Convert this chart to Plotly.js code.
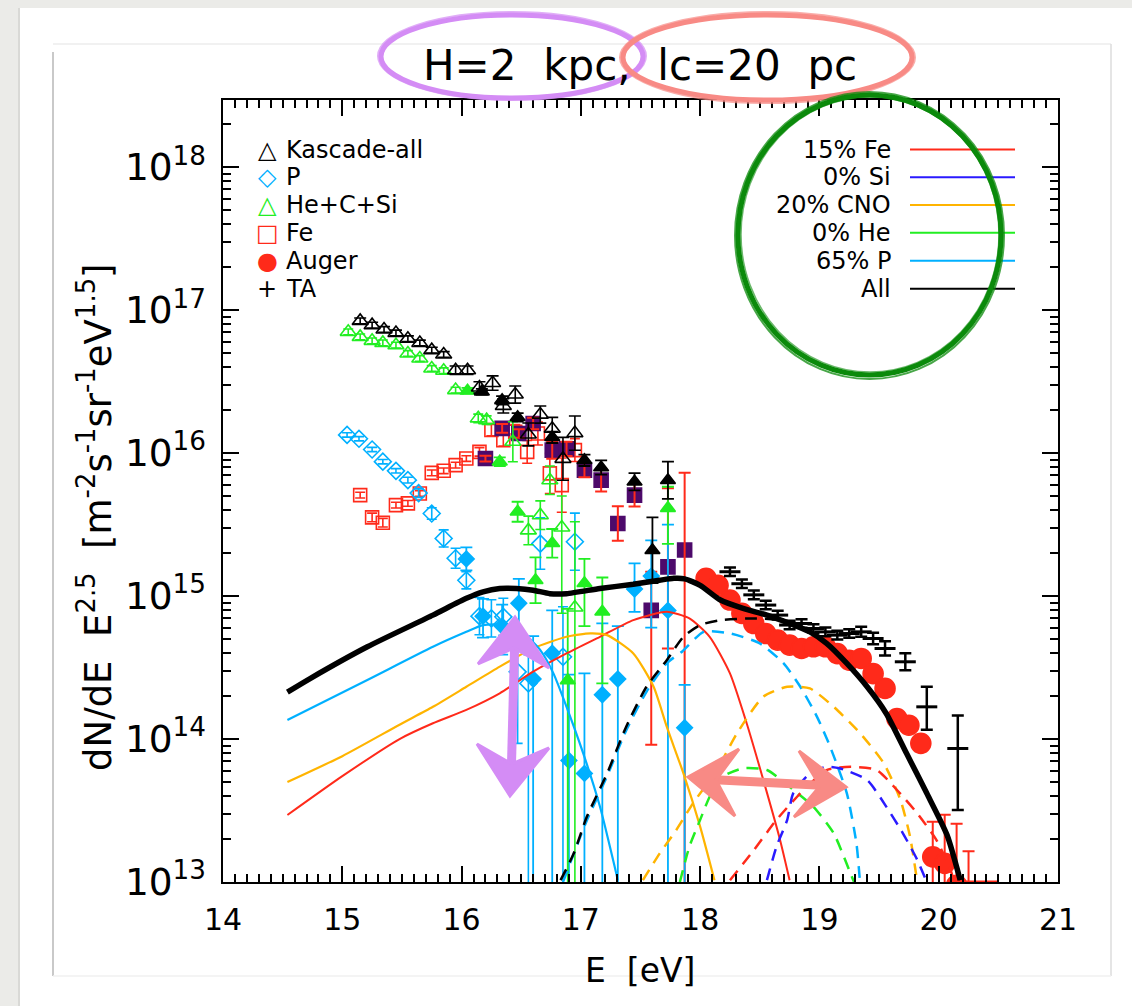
<!DOCTYPE html>
<html>
<head>
<meta charset="utf-8">
<script src="https://cdn.plot.ly/plotly-3.0.1.min.js"></script>
<style>html,body{margin:0;padding:0;background:#fff;}#chart{width:1132px;height:1006px;}</style>
</head>
<body>
<div id="chart"></div>
<script>
// ---------------- DATA (x = log10(E/eV), y = dN/dE E^2.5) ----------------
// KASCADE all-particle (open black triangles)
const kasAllX = [15.15,15.25,15.35,15.45,15.55,15.65,15.75,15.85,15.95,16.05,16.15,16.26,16.35,16.45,16.56,16.66,16.76,16.85,16.95];
const kasAllY = [8.41e16,7.85e16,7.33e16,6.92e16,6.31e16,5.89e16,5.25e16,4.90e16,3.80e16,3.80e16,2.88e16,3.09e16,2.14e16,2.57e16,1.35e16,1.86e16,1.48e16,9.12e15,1.38e16];
const kasAllErr = [0.02,0.02,0.02,0.02,0.02,0.02,0.02,0.02,0.03,0.03,0.04,0.05,0.05,0.06,0.08,0.06,0.08,0.15,0.12];
// KASCADE-Grande all-particle (filled black triangles)
const kgAllX = [16.17,16.34,16.47,16.76,17.03,17.17,17.45,17.60,17.73];
const kgAllY = [2.69e16,2.34e16,1.78e16,1.29e16,8.91e15,7.94e15,6.31e15,2.09e15,6.46e15];
const kgAllErr = [0.02,0.03,0.03,0.04,0.04,0.05,0.06,0.23,0.13];
// P (open blue diamonds)
const kasPX = [15.04,15.14,15.25,15.34,15.45,15.55,15.64,15.75,15.85,15.95,16.04,16.15,16.25,16.35,16.47,16.56,16.66,16.85,16.95];
const kasPY = [1.34e16,1.26e16,1.06e16,8.71e15,7.52e15,6.47e15,5.25e15,3.78e15,2.53e15,1.84e15,1.29e15,7.24e14,6.98e14,7.16e14,2.95e14,2.45e14,2.33e15,3.76e14,2.40e15];
const kasPUp = [0.015,0.015,0.015,0.015,0.015,0.02,0.03,0.04,0.06,0.07,0.06,0.13,0.13,0.13,0.27,0.2,0.18,0.35,0.2];
const kasPDn = [0.015,0.015,0.015,0.015,0.015,0.02,0.03,0.04,0.06,0.07,0.06,0.13,0.13,0.13,0.5,3,0.18,3,0.2];
// P (filled blue diamonds)
const kgPX = [16.04,16.18,16.34,16.48,16.60,16.76,16.90,17.03,17.18,17.31,17.45,17.59,17.73,17.87];
const kgPY = [1.82e15,7.24e14,6.17e14,8.91e14,2.63e14,3.98e14,7.08e13,5.75e13,2.04e14,2.63e14,1.12e15,1.38e15,7.94e14,1.20e14];
const kgPUp = [0.08,0.12,0.15,0.17,0.3,0.3,0.6,0.7,0.5,0.37,0.18,0.25,0.6,0.3];
const kgPDn = [0.08,0.15,0.2,0.25,3,3,3,3,3,3,0.16,0.36,3,3];
// He+C+Si (open green triangles)
const kasHX = [15.05,15.15,15.25,15.34,15.45,15.55,15.65,15.75,15.85,15.95,16.14,16.21,16.43,16.56,16.66,16.74,16.84,16.95];
const kasHY = [7.05e16,6.50e16,6.10e16,5.90e16,5.69e16,4.98e16,4.59e16,3.91e16,3.77e16,2.76e16,1.75e16,1.70e16,1.20e16,2.88e15,3.68e15,6.46e15,3.02e15,8.32e14];
const kasHUp = [0.02,0.02,0.02,0.02,0.02,0.02,0.02,0.02,0.02,0.02,0.03,0.03,0.14,0.1,0.1,0.1,0.22,0.6];
const kasHDn = [0.02,0.02,0.02,0.02,0.02,0.02,0.02,0.02,0.02,0.02,0.03,0.03,0.14,0.1,0.1,0.1,0.6,3];
// He+C+Si (filled green triangles)
const kgHX = [16.05,16.32,16.47,16.62,16.76,16.89,17.03,17.18,17.73];
const kgHY = [2.73e16,8.71e15,3.89e15,1.29e15,2.34e15,2.57e14,1.23e15,7.76e14,4.12e15];
const kgHUp = [0.02,0.03,0.07,0.16,0.1,0.5,0.17,0.24,0.15];
const kgHDn = [0.02,0.03,0.07,0.16,0.1,3,0.3,0.5,0.25];
// Fe (open red squares)
const kasFeX = [15.15,15.25,15.34,15.45,15.55,15.65,15.75,15.85,15.95,16.04,16.15,16.25,16.35,16.45,16.55,16.64,16.74,16.84,16.95];
const kasFeY = [5.08e15,3.55e15,3.26e15,4.33e15,4.45e15,5.22e15,7.28e15,7.52e15,8.24e15,9.16e15,1.02e16,1.45e16,1.23e16,1.41e16,1.02e16,1.37e16,7.21e15,5.97e15,1.05e16];
const kasFeErr = [0.02,0.03,0.03,0.02,0.02,0.02,0.02,0.02,0.02,0.02,0.03,0.04,0.04,0.05,0.08,0.08,0.14,0.19,0.08];
// Fe (filled purple squares)
const kgFeX = [16.20,16.34,16.48,16.60,16.76,16.88,17.03,17.17,17.31,17.45,17.59,17.73,17.87];
const kgFeY = [9.16e15,1.49e16,1.37e16,1.61e16,1.05e16,1.07e16,7.60e15,6.47e15,3.22e15,5.08e15,7.94e14,1.60e15,2.10e15];
const kgFeUp = [0.02,0.03,0.03,0.04,0.06,0.05,0.05,0.08,0.12,0.08,0.27,0.55,0.54];
const kgFeDn = [0.02,0.03,0.03,0.04,0.06,0.05,0.05,0.08,0.12,0.08,0.94,0.57,3];
// Auger (filled red circles)
const augerX = [18.05,18.15,18.25,18.35,18.45,18.55,18.65,18.75,18.85,18.95,19.05,19.15,19.25,19.35,19.45,19.55,19.65,19.75,19.85,19.95,20.05,20.15,20.25];
const augerY = [1.33e15,1.19e15,9.38e14,7.57e14,6.43e14,5.47e14,4.92e14,4.54e14,4.30e14,4.42e14,4.42e14,3.96e14,3.56e14,3.66e14,2.87e14,2.26e14,1.39e14,1.25e14,9.33e13,1.50e13,1.35e13,9.5e12,7.0e12];
const augerUp = [0.01,0.01,0.01,0.01,0.01,0.01,0.01,0.01,0.01,0.01,0.01,0.01,0.01,0.01,0.01,0.02,0.03,0.03,0.05,0.245,0.34,0.43,0.37];
const augerDn = [0.01,0.01,0.01,0.01,0.01,0.01,0.01,0.01,0.01,0.01,0.01,0.01,0.01,0.01,0.01,0.02,0.03,0.03,0.05,3,3,3,3];
const augerLimX = [20.2, 20.5];
const augerLimY = [1.0e13, 1.0e13];
// TA (black crosses)
const taX = [18.25,18.35,18.45,18.55,18.65,18.75,18.85,18.95,19.05,19.15,19.25,19.35,19.45,19.55,19.72,19.90,20.16];
const taY = [1.48e15,1.22e15,1.02e15,8.65e14,7.36e14,6.27e14,6.43e14,5.93e14,5.62e14,5.33e14,5.47e14,5.62e14,5.05e14,4.30e14,3.47e14,1.68e14,8.59e13];
const taUp = [0.03,0.03,0.03,0.03,0.03,0.03,0.03,0.03,0.03,0.03,0.03,0.035,0.04,0.05,0.06,0.14,0.23];
const taDn = [0.03,0.03,0.03,0.03,0.03,0.03,0.03,0.03,0.03,0.03,0.03,0.035,0.04,0.05,0.06,0.16,0.43];

// Model curves: galactic (solid)
const galPX = [14.54,15.21,15.76,16.04,16.18,16.38,16.52,16.66,16.77,16.88,17.02,17.16,17.31];
const galPY = [1.36e14,2.59e14,4.42e14,5.62e14,6.27e14,6.27e14,5.48e14,4.19e14,2.88e14,1.68e14,7.94e13,3.37e13,1.03e13];
const galCNOX = [14.54,15.0,15.48,15.76,16.04,16.32,16.60,16.88,17.08,17.22,17.44,17.61,17.72,17.86,18.00,18.12];
const galCNOY = [5.0e13,7.59e13,1.26e14,1.68e14,2.32e14,3.21e14,4.31e14,5.19e14,5.48e14,5.33e14,3.97e14,2.32e14,1.22e14,5.75e13,2.44e13,1.03e13];
const galFeX = [14.54,15.0,15.48,15.76,16.04,16.32,16.60,16.88,17.16,17.44,17.72,17.91,18.08,18.25,18.39,18.53,18.67,18.75];
const galFeY = [2.94e13,5.50e13,1.0e14,1.29e14,1.60e14,2.09e14,2.96e14,3.97e14,5.19e14,6.79e14,7.76e14,6.98e14,5.19e14,2.88e14,1.29e14,5.16e13,1.97e13,1.03e13];
// Total (thick black)
const totX = [14.54,14.73,15.21,15.76,16.04,16.18,16.32,16.46,16.60,16.74,16.88,17.16,17.44,17.66,17.78,17.87,18.00,18.17,18.36,18.56,18.75,18.92,19.06,19.23,19.40,19.56,19.73,19.90,20.07,20.18];
const totY = [2.13e14,2.65e14,4.42e14,7.36e14,9.64e14,1.07e15,1.13e15,1.13e15,1.10e15,1.04e15,1.04e15,1.13e15,1.21e15,1.29e15,1.33e15,1.32e15,1.19e15,9.38e14,8.20e14,7.36e14,6.44e14,5.62e14,4.67e14,3.38e14,2.32e14,1.51e14,7.94e13,4.17e13,2.13e13,1.03e13];
// Extragalactic (dashed)
const egAllX = [16.83,16.94,17.05,17.22,17.38,17.55,17.72,17.86,18.00,18.17,18.45,18.67,18.92,19.06,19.23,19.40,19.56,19.73,19.90,20.07,20.18];
const egAllY = [1.03e13,1.58e13,2.86e13,5.75e13,1.22e14,2.32e14,3.56e14,5.19e14,6.27e14,6.79e14,6.98e14,6.79e14,5.62e14,4.67e14,3.38e14,2.32e14,1.51e14,7.94e13,4.17e13,2.13e13,1.03e13];
const egPX = [16.85,17.05,17.22,17.38,17.55,17.72,17.85,18.03,18.25,18.50,18.70,18.84,18.98,19.09,19.23,19.31,19.34];
const egPY = [1.0e13,2.69e13,5.50e13,1.15e14,2.14e14,3.39e14,4.10e14,5.62e14,5.48e14,4.67e14,3.38e14,2.32e14,1.43e14,8.83e13,4.17e13,1.87e13,1.0e13];
const egCNOX = [17.52,17.66,17.80,17.94,18.14,18.31,18.53,18.73,18.92,19.12,19.34,19.54,19.68,19.76,19.82];
const egCNOY = [1.03e13,1.58e13,2.31e13,3.55e13,6.07e13,1.10e14,1.98e14,2.32e14,2.26e14,1.68e14,1.10e14,6.76e13,3.74e13,2.07e13,1.0e13];
const egHeX = [17.83,17.91,18.00,18.08,18.19,18.36,18.56,18.75,18.95,19.12,19.26,19.29];
const egHeY = [1.0e13,1.77e13,2.72e13,3.95e13,5.45e13,6.24e13,6.07e13,4.63e13,3.36e13,2.19e13,1.15e13,1.0e13];
const egFeX = [18.25,18.45,18.64,18.84,19.06,19.26,19.48,19.65,19.82,19.98,20.09,20.13];
const egFeY = [1.03e13,1.67e13,2.72e13,4.17e13,6.07e13,6.40e13,6.07e13,4.40e13,3.02e13,1.97e13,1.28e13,1.0e13];
const egSiX = [18.56,18.64,18.73,18.78,18.92,19.06,19.17,19.40,19.56,19.70,19.82,19.90];
const egSiY = [1.03e13,1.77e13,2.72e13,4.17e13,5.75e13,6.40e13,6.24e13,5.16e13,3.37e13,2.19e13,1.43e13,1.0e13];

// Legends
const dataLegend = ['Kascade-all','P','He+C+Si','Fe','Auger','TA'];
const dataLegendSym = ['\u25B3','\u25C7','\u25B3','\u25A1','\u25CF','+'];
const modelLegend = ['15% Fe','0% Si','20% CNO','0% He','65% P','All'];

// ---------------- STYLE ----------------
const RED = '#ff2a1a', BLUE = '#2a1aff', ORANGE = '#ffb400', GREEN = '#22ee22', LBLUE = '#00b0ff', PURPLE = '#4d0a6b', BLACK = '#000000';
const FONT = 'DejaVu Sans, sans-serif';
const dataLegendCol = [BLACK, LBLUE, GREEN, RED, RED, BLACK];
const modelLegendCol = [RED, BLUE, ORANGE, GREEN, LBLUE, BLACK];

// plot area in page pixels: x 223..1058, y 100..882
const PX = px => (px - 223) / 835;
const PY = py => (882 - py) / 782;

function errBars(y, up, dn, color, thick, w) {
  return {type: 'data', symmetric: false,
    array: y.map((v, i) => v * (Math.pow(10, up[i]) - 1)),
    arrayminus: y.map((v, i) => v * (1 - Math.pow(10, -dn[i]))),
    color: color, thickness: thick, width: w};
}
function pts(x, y, sym, size, color, err, extra) {
  return Object.assign({type: 'scatter', mode: 'markers', x: x, y: y, hoverinfo: 'skip',
    marker: {symbol: sym, size: size, color: color, line: {width: 1.6, color: color}},
    error_y: err}, extra || {});
}
function curve(x, y, color, width, dash) {
  return {type: 'scatter', mode: 'lines', x: x, y: y, hoverinfo: 'skip',
    line: {color: color, width: width, dash: dash || 'solid', shape: 'spline', smoothing: 0.6}};
}

const traces = [
  pts(kasFeX, kasFeY, 'square-open', 13, RED, errBars(kasFeY, kasFeErr, kasFeErr, RED, 1.6, 5)),
  pts(kgFeX, kgFeY, 'square', 14, PURPLE, undefined),
  pts(kgFeX, kgFeY, 'square', 14, 'rgba(0,0,0,0)', errBars(kgFeY, kgFeUp, kgFeDn, RED, 2, 6)),
  pts(kasPX, kasPY, 'diamond-open', 13, LBLUE, errBars(kasPY, kasPUp, kasPDn, LBLUE, 1.6, 5)),
  pts(kgPX, kgPY, 'diamond', 12, LBLUE, errBars(kgPY, kgPUp, kgPDn, LBLUE, 1.8, 6)),
  pts(kasHX, kasHY, 'triangle-up-open', 14, GREEN, errBars(kasHY, kasHUp, kasHDn, GREEN, 1.6, 5)),
  pts(kgHX, kgHY, 'triangle-up', 13, GREEN, errBars(kgHY, kgHUp, kgHDn, GREEN, 1.8, 6)),
  pts(kasAllX, kasAllY, 'triangle-up-open', 14, BLACK, errBars(kasAllY, kasAllErr, kasAllErr, BLACK, 1.6, 6)),
  pts(kgAllX, kgAllY, 'triangle-up', 13, BLACK, errBars(kgAllY, kgAllErr, kgAllErr, BLACK, 1.8, 6)),
  pts(augerX, augerY, 'circle', 20, RED, errBars(augerY, augerUp, augerDn, RED, 2, 6)),
  {type: 'scatter', mode: 'lines', x: augerLimX, y: augerLimY, hoverinfo: 'skip', line: {color: RED, width: 3}},
  pts(taX, taY, 'line-ew', 15, BLACK, errBars(taY, taUp, taDn, BLACK, 2.5, 6), {marker: {symbol: 'line-ew', size: 15, color: BLACK, line: {width: 3, color: BLACK}}}),
  curve(galFeX, galFeY, RED, 2),
  curve(galCNOX, galCNOY, ORANGE, 2.2),
  curve(galPX, galPY, LBLUE, 2.2),
  curve(egPX, egPY, LBLUE, 2.5, '12px,8px'),
  curve(egCNOX, egCNOY, ORANGE, 2.5, '12px,8px'),
  curve(egHeX, egHeY, GREEN, 2.5, '12px,8px'),
  curve(egFeX, egFeY, RED, 2.5, '12px,8px'),
  curve(egSiX, egSiY, BLUE, 2.5, '12px,8px'),
  curve(egAllX, egAllY, BLACK, 2.5, '12px,8px'),
  curve(totX, totY, BLACK, 5.5)
];

// ---------------- ANNOTATIONS ----------------
const NB = '\u00a0';
const annotations = [];
annotations.push({xref: 'paper', yref: 'paper', x: PX(640), y: PY(65), xanchor: 'center', yanchor: 'middle', showarrow: false,
  text: 'H=2' + NB + ' kpc,' + NB + ' lc=20' + NB + ' pc', font: {family: FONT, size: 42, color: BLACK}});
annotations.push({xref: 'paper', yref: 'paper', x: PX(640), y: PY(970), xanchor: 'center', yanchor: 'middle', showarrow: false,
  text: 'E' + NB + ' [eV]', font: {family: FONT, size: 33, color: BLACK}});
annotations.push({xref: 'paper', yref: 'paper', x: PX(95), y: PY(517), xanchor: 'center', yanchor: 'middle', showarrow: false, textangle: -90,
  text: 'dN/dE' + NB + ' E<sup>2.5</sup>' + NB + ' [m<sup>-2</sup>s<sup>-1</sup>sr<sup>-1</sup>eV<sup>1.5</sup>]', font: {family: FONT, size: 37, color: BLACK}});
const rows = [149.5, 177.3, 205, 232.7, 260.7, 288.8];
dataLegend.forEach((t, i) => {
  annotations.push({xref: 'paper', yref: 'paper', x: PX(267), y: PY(rows[i]), xanchor: 'center', yanchor: 'middle', showarrow: false,
    text: dataLegendSym[i], font: {family: FONT, size: 24, color: dataLegendCol[i]}});
  annotations.push({xref: 'paper', yref: 'paper', x: PX(284), y: PY(rows[i]), xanchor: 'left', yanchor: 'middle', showarrow: false,
    text: t, font: {family: FONT, size: 24, color: BLACK}});
});
modelLegend.forEach((t, i) => {
  annotations.push({xref: 'paper', yref: 'paper', x: PX(893), y: PY(rows[i]), xanchor: 'right', yanchor: 'middle', showarrow: false,
    text: t, font: {family: FONT, size: 24, color: BLACK}});
});

// ---------------- SHAPES ----------------
const shapes = [];
// page card / frame
shapes.push({type: 'rect', xref: 'paper', yref: 'paper', layer: 'below', x0: PX(18), x1: PX(1132), y0: PY(1006), y1: PY(8), fillcolor: '#ffffff', line: {width: 0}});
shapes.push({type: 'line', xref: 'paper', yref: 'paper', layer: 'below', x0: PX(19), x1: PX(19), y0: PY(1006), y1: PY(8), line: {color: '#d9d9d6', width: 2}});
shapes.push({type: 'line', xref: 'paper', yref: 'paper', layer: 'below', x0: PX(53), x1: PX(1111), y0: PY(44), y1: PY(44), line: {color: '#ececec', width: 1.5}});
shapes.push({type: 'line', xref: 'paper', yref: 'paper', layer: 'below', x0: PX(53), x1: PX(53), y0: PY(976), y1: PY(52), line: {color: '#c9c9c9', width: 2}});
shapes.push({type: 'line', xref: 'paper', yref: 'paper', layer: 'below', x0: PX(1111), x1: PX(1111), y0: PY(976), y1: PY(44), line: {color: '#dcdcdc', width: 1.5}});
shapes.push({type: 'line', xref: 'paper', yref: 'paper', layer: 'below', x0: PX(53), x1: PX(1111), y0: PY(976), y1: PY(976), line: {color: '#f0f0f0', width: 1.5}});
// model legend lines
modelLegendCol.forEach((c, i) => {
  shapes.push({type: 'line', xref: 'paper', yref: 'paper', x0: PX(910), x1: PX(1015), y0: PY(rows[i]), y1: PY(rows[i]), line: {color: c, width: 2}});
});
// hand-drawn ellipses
function ell(x0, x1, y0, y1, color, w, op) {
  return {type: 'circle', xref: 'paper', yref: 'paper', x0: PX(x0), x1: PX(x1), y0: PY(y1), y1: PY(y0), line: {color: color, width: w}, opacity: op};
}
const VIOLET = '#d48cf5', SALMON = '#f88a85', DGREEN = '#0b8a0b';
shapes.push(ell(381, 643, 15, 98, VIOLET, 5, 1));
shapes.push(ell(378, 646, 12, 100, VIOLET, 2, 0.7));
shapes.push(ell(623, 912, 15, 100, SALMON, 5, 1));
shapes.push(ell(620, 915, 12, 103, SALMON, 2, 0.7));
shapes.push(ell(738, 1001, 95, 375, DGREEN, 5, 1));
shapes.push(ell(735, 1004, 92, 379, DGREEN, 2, 0.75));
shapes.push(ell(741, 999, 97, 372, DGREEN, 1.5, 0.6));
// hand-drawn arrows
function poly(p) { return 'M' + p.map(q => PX(q[0]) + ',' + PY(q[1])).join(' L') + ' Z'; }
function seg(a, b) { return 'M' + PX(a[0]) + ',' + PY(a[1]) + ' L' + PX(b[0]) + ',' + PY(b[1]); }
shapes.push({type: 'path', xref: 'paper', yref: 'paper', path: seg([515, 630], [511, 783]), line: {color: VIOLET, width: 9}});
shapes.push({type: 'path', xref: 'paper', yref: 'paper', path: poly([[515, 617], [549, 668], [514, 648], [478, 664]]), fillcolor: VIOLET, line: {color: VIOLET, width: 3}});
shapes.push({type: 'path', xref: 'paper', yref: 'paper', path: poly([[510, 796], [477, 744], [512, 764], [549, 748]]), fillcolor: VIOLET, line: {color: VIOLET, width: 3}});
shapes.push({type: 'path', xref: 'paper', yref: 'paper', path: seg([700, 779], [836, 786]), line: {color: SALMON, width: 9}});
shapes.push({type: 'path', xref: 'paper', yref: 'paper', path: poly([[688, 777], [739, 749], [716, 780], [735, 816]]), fillcolor: SALMON, line: {color: SALMON, width: 3}});
shapes.push({type: 'path', xref: 'paper', yref: 'paper', path: poly([[846, 787], [799, 751], [820, 786], [794, 817]]), fillcolor: SALMON, line: {color: SALMON, width: 3}});

const axisCommon = {ticks: 'inside', ticklen: 16, tickwidth: 2, tickcolor: BLACK, showline: true, linewidth: 2, linecolor: BLACK,
  mirror: 'allticks', showgrid: false, zeroline: false, automargin: false, tickfont: {family: FONT, size: 30, color: BLACK}};

const layout = {
  width: 1132, height: 1006,
  margin: {l: 223, r: 74, t: 100, b: 124, pad: 0},
  paper_bgcolor: '#ebebe8', plot_bgcolor: '#ffffff',
  showlegend: false,
  font: {family: FONT, color: BLACK},
  xaxis: Object.assign({}, axisCommon, {range: [14, 21], tick0: 14, dtick: 1, ticklabelstandoff: 10,
    minor: {ticks: 'inside', ticklen: 8, tickwidth: 1.5, tickcolor: BLACK, tick0: 14, dtick: 0.1, showgrid: false}}),
  yaxis: Object.assign({}, axisCommon, {type: 'log', range: [13, 18.47], dtick: 1, exponentformat: 'power', ticklabelstandoff: 9,
    minor: {ticks: 'inside', ticklen: 8, tickwidth: 1.5, tickcolor: BLACK, dtick: 'D1', showgrid: false}}),
  annotations: annotations,
  shapes: shapes
};

Plotly.newPlot('chart', traces, layout, {displayModeBar: false});
</script>
</body>
</html>
